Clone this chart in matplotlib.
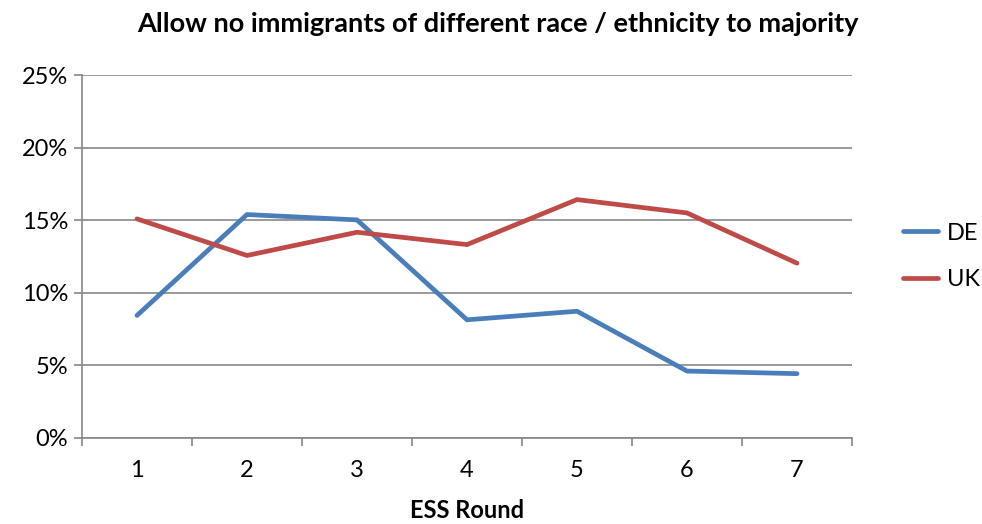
import matplotlib
matplotlib.use("Agg")
import matplotlib.pyplot as plt
from matplotlib.ticker import FixedLocator, FuncFormatter

rounds = [1, 2, 3, 4, 5, 6, 7]
de = [8.44, 15.39, 15.02, 8.14, 8.73, 4.61, 4.43]
uk = [15.09, 12.57, 14.17, 13.32, 16.42, 15.50, 12.04]
series_names = ["DE", "UK"]
colors = ["#4A7EBB", "#BE4B48"]
yticks = [0, 5, 10, 15, 20, 25]

plt.rcParams['font.family'] = ['Lato', 'DejaVu Sans']

fig = plt.figure(figsize=(9.82, 5.24), dpi=100)
ax = fig.add_axes([82/982, (524-438)/524, (852-82)/982, (438-75)/524])

grid_c = "#878787"
for v in yticks:
    ax.axhline(v, color=grid_c, lw=1.2, zorder=1)

for vals, name, c in zip([de, uk], series_names, colors):
    ax.plot(rounds, vals, color=c, lw=3.4, label=name, zorder=3,
            solid_capstyle='round', solid_joinstyle='miter')

ax.set_xlim(0.5, 7.5)
ax.set_ylim(0, 25)
ax.set_yticks(yticks)
ax.yaxis.set_major_formatter(FuncFormatter(lambda v, p: f"{int(v)}%"))
ax.set_xticks(rounds)
ax.set_xticklabels([str(r) for r in rounds])
ax.xaxis.set_minor_locator(FixedLocator([r + 0.5 for r in [0] + rounds]))
ax.tick_params(axis='x', which='major', length=0, pad=16, labelsize=17)
ax.tick_params(axis='x', which='minor', length=6, color=grid_c, width=1.2)
ax.tick_params(axis='y', which='major', length=6, color=grid_c, width=1.2,
               labelsize=17, pad=4)

for s in ["top", "right"]:
    ax.spines[s].set_visible(False)
for s in ["left", "bottom"]:
    ax.spines[s].set_color(grid_c)
    ax.spines[s].set_linewidth(1.2)

ax.set_xlabel("ESS Round", fontsize=17, fontweight='bold', labelpad=13)
fig.text(498/982, 1 - 24/524, "Allow no immigrants of different race / ethnicity to majority",
         ha='center', va='center', fontsize=19.5, fontweight='bold')

leg = ax.legend(loc='center left', bbox_to_anchor=(1.038, 0.5), frameon=False,
                fontsize=17, handlelength=1.5, handletextpad=0.4, labelspacing=1.1)

fig.savefig("out.png", dpi=100)
